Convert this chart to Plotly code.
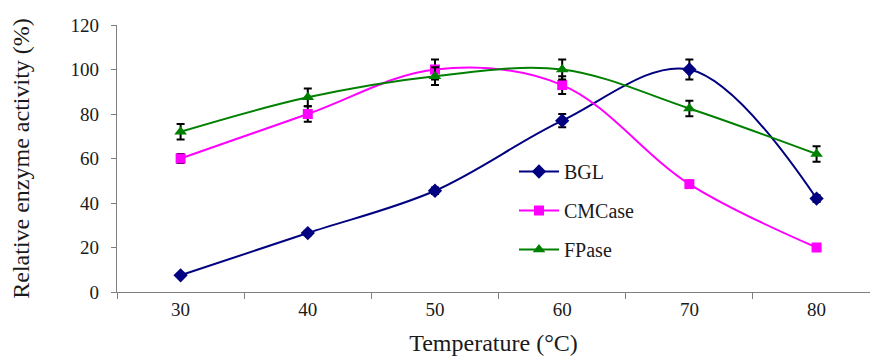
import plotly.graph_objects as go

temperatures = ["30", "40", "50", "60", "70", "80"]

bgl = [7.5, 26.5, 45.5, 77, 100, 42]
bgl_err = [0.5, 1, 1.5, 3, 4.5, 1.5]

cmcase = [60, 80, 100, 93, 48.5, 20]
cmcase_err = [2, 3.5, 4.5, 4, 1, 1]

fpase = [72, 87.5, 97, 100, 82.5, 62]
fpase_err = [3.5, 4, 4, 4.5, 3.5, 3.5]

y_ticks = [0, 20, 40, 60, 80, 100, 120]

SERIF = "Liberation Serif, Times New Roman, serif"

series = [
    ("BGL", bgl, bgl_err, "#000080", "diamond", 11),
    ("CMCase", cmcase, cmcase_err, "#FF00FF", "square", 10),
    ("FPase", fpase, fpase_err, "#008000", "triangle-up", 11),
]

fig = go.Figure()
for name, vals, errs, color, symbol, size in series:
    fig.add_trace(go.Scatter(
        x=temperatures, y=vals, name=name, legendgroup=name,
        mode="lines+markers",
        line=dict(color=color, width=2, shape="spline", smoothing=1.0),
        marker=dict(symbol=symbol, size=size, color=color),
        error_y=dict(type="data", array=errs, visible=True,
                     color="black", thickness=2, width=4),
    ))

axis_color = "#7f7f7f"
fig.update_layout(
    width=870, height=356,
    margin=dict(l=117, r=0, t=25, b=64),
    paper_bgcolor="white", plot_bgcolor="white",
    font=dict(family=SERIF, color="#1a1a1a", size=19),
    showlegend=True,
    legend=dict(
        x=(514 - 117) / 753, y=(292 - 152) / 267,
        xanchor="left", yanchor="top",
        bgcolor="rgba(0,0,0,0)",
        font=dict(family=SERIF, size=20, color="#1a1a1a"),
        tracegroupgap=10, itemwidth=40,
    ),
    xaxis=dict(
        type="category", range=[-0.5, 5.42],
        tickson="boundaries", ticks="outside", ticklen=6,
        tickcolor=axis_color, tickwidth=1,
        showline=True, linecolor=axis_color, linewidth=1.3,
        showgrid=False, zeroline=False,
        tickfont=dict(size=19),
        title=dict(text="Temperature (°C)", font=dict(size=24), standoff=17),
    ),
    yaxis=dict(
        range=[0, 120], tickvals=y_ticks,
        ticks="outside", ticklen=5, tickcolor=axis_color, tickwidth=1,
        showline=True, linecolor=axis_color, linewidth=1.3,
        showgrid=False, zeroline=False,
        tickfont=dict(size=19),
        ticklabelstandoff=8,
        title=dict(text="Relative enzyme activity (%)", font=dict(size=24), standoff=34),
    ),
)

fig.write_html("out.html")
